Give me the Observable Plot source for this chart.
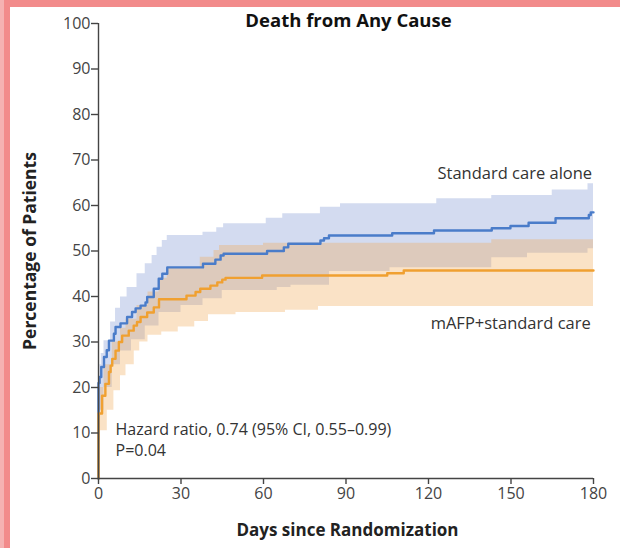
<!DOCTYPE html>
<html><head><meta charset="utf-8">
<script src="https://cdn.jsdelivr.net/npm/d3@7"></script>
<script src="https://cdn.jsdelivr.net/npm/@observablehq/plot@0.6"></script>
<style>
html,body{margin:0;padding:0;background:#fff;}
#outer{width:620px;height:548px;background:#f5b2b2;position:relative;overflow:hidden;}
#frame{position:absolute;left:4px;top:0;width:610px;height:541px;border-left:6px solid #f28b8b;border-top:7px solid #f28b8b;background:#fff;}
#frame svg{display:block;}
</style></head><body><div id="outer"><div id="frame"></div></div>
<script>
// Standard care alone: Kaplan-Meier step curve (days, percentage)
const stdDays = [0, 0, 0.4, 1, 2, 3, 3.8, 5.6, 6.2, 8, 10.4, 12.2, 13.5, 15.3, 17.1, 17.7, 20.1, 21.9, 23.2, 25, 38, 42.5, 44.4, 45.5, 61.3, 67.4, 69, 80.7, 82, 83.8, 106.8, 122, 143, 149.8, 156.4, 166.2, 178.3, 179, 180];
const stdVals = [0, 21, 22.3, 24.5, 26.7, 28.2, 30.3, 31.8, 33.3, 34.1, 35.5, 36.6, 37.4, 38.0, 38.7, 39.9, 41.7, 43.9, 45.0, 46.4, 47.2, 48.1, 49.0, 49.4, 50.0, 50.8, 51.6, 52.3, 52.8, 53.4, 53.9, 54.5, 55.0, 55.5, 56.2, 57.2, 57.9, 58.5, 58.5];
// Standard care alone: 95% CI
const stdUpDays = [0, 0.5, 1, 2, 4.4, 6.2, 8, 10.4, 14, 17, 19.5, 21.3, 23.2, 25, 38, 43, 45.5, 61, 67, 80.7, 88, 123, 143, 165, 178, 180];
const stdUpVals = [22, 25, 27.5, 30.3, 34.4, 37.4, 39.9, 42, 45, 47.2, 49, 50.8, 52.3, 53.4, 54.1, 55.1, 56, 57.2, 58.2, 59.6, 60.4, 61.5, 62.2, 63.4, 64.8, 64.8];
const stdLoDays = [0, 2, 5, 8, 12, 17, 22, 30, 38, 45, 65, 70, 84, 106, 143, 156, 178, 180];
const stdLoVals = [15, 20, 25, 28, 30.5, 33.5, 36.5, 38, 39.5, 41.3, 42, 42.5, 45.5, 46.3, 48.5, 49.5, 50.5, 50.5];
// mAFP + standard care
const mafpDays = [0, 0, 1.3, 2.5, 3.8, 4.4, 5, 6.2, 7.4, 8.6, 11, 12.8, 14, 15.3, 17.7, 20.1, 22, 32, 35.3, 37, 40.7, 43.2, 45, 46.2, 59.5, 105, 111, 180];
const mafpVals = [0, 14.3, 18.2, 20.8, 23.4, 24.8, 26.3, 28.1, 30.0, 31.4, 32.5, 33.6, 34.4, 35.5, 36.5, 37.6, 39.4, 40.2, 41.0, 41.7, 42.4, 43.1, 43.7, 44.1, 44.6, 45.1, 45.7, 45.7];
const mafpUpDays = [0, 2, 5, 8, 10, 14, 18, 22, 25, 37, 42, 44, 60, 143, 180];
const mafpUpVals = [20, 25, 30, 33, 35, 38, 41, 44, 46.2, 48.6, 50.1, 51.2, 51.7, 52.5, 52.5];
const mafpLoDays = [0, 0.7, 3.2, 5.6, 8, 10, 13, 15, 18, 23, 29, 35, 40, 50, 68, 80, 180];
const mafpLoVals = [8, 10.5, 15, 19.3, 22.6, 25, 28, 30, 31.5, 32.2, 33.3, 34.5, 36, 36.5, 37, 37.8, 38];

const xTicks = [0, 30, 60, 90, 120, 150, 180];
const yTicks = [0, 10, 20, 30, 40, 50, 60, 70, 80, 90, 100];

function stepAt(days, vals, t) {
  let v = vals[0];
  for (let i = 0; i < days.length; i++) if (days[i] <= t) v = vals[i];
  return v;
}
function band(loD, loV, upD, upV) {
  const ds = Array.from(new Set([...loD, ...upD])).sort((a, b) => a - b);
  return ds.map(d => ({day: d, lo: stepAt(loD, loV, d), hi: stepAt(upD, upV, d)}));
}
const stdLine = stdDays.map((d, i) => ({day: d, v: stdVals[i]}));
const mafpLine = mafpDays.map((d, i) => ({day: d, v: mafpVals[i]}));
const stdBand = band(stdLoDays, stdLoVals, stdUpDays, stdUpVals);
const mafpBand = band(mafpLoDays, mafpLoVals, mafpUpDays, mafpUpVals);

const font = "Open Sans";
const plot = Plot.plot({
  width: 610, height: 541,
  marginLeft: 88, marginRight: 27, marginTop: 16, marginBottom: 70,
  x: {domain: [0, 180]},
  y: {domain: [0, 100]},
  style: {fontFamily: font, background: "transparent", overflow: "visible"},
  marks: [
    Plot.areaY(stdBand, {x: "day", y1: "lo", y2: "hi", curve: "step-after", fill: "#d3dbf0"}),
    Plot.areaY(mafpBand, {x: "day", y1: "lo", y2: "hi", curve: "step-after", fill: "#f1ac5c", fillOpacity: 0.35}),
    Plot.line(stdLine, {x: "day", y: "v", curve: "step-after", stroke: "#4a7cc9", strokeWidth: 2.4}),
    Plot.line(mafpLine, {x: "day", y: "v", curve: "step-after", stroke: "#f0a030", strokeWidth: 2.4}),
    Plot.ruleX([0], {stroke: "#444", strokeWidth: 1.4}),
    Plot.ruleY([0], {stroke: "#444", strokeWidth: 1.4}),
    Plot.axisY({ticks: yTicks, tickSize: 7, tickPadding: 1, label: null, fontSize: 16, fill: "#444", stroke: "#444", strokeWidth: 1.4}),
    Plot.axisX({ticks: xTicks, tickSize: 6, tickPadding: 3, label: null, fontSize: 16, fill: "#444", stroke: "#444", strokeWidth: 1.4}),
    Plot.text(["Death from Any Cause"], {frameAnchor: "top", dx: 2.5, dy: -2, lineAnchor: "middle", fontSize: 18.5, fontWeight: "bold", fill: "#111"}),
    Plot.text(["Percentage of Patients"], {frameAnchor: "left", dx: -68, rotate: -90, textAnchor: "middle", fontSize: 17.5, fontWeight: "bold", fill: "#222"}),
    Plot.text(["Days since Randomization"], {frameAnchor: "bottom", dx: 1.5, dy: 52, lineAnchor: "middle", fontSize: 17, fontWeight: "bold", fill: "#222"}),
    Plot.text(["Standard care alone"], {x: 179.5, y: 67, textAnchor: "end", fontSize: 16.5, fill: "#333"}),
    Plot.text(["mAFP+standard care"], {x: 179, y: 34, textAnchor: "end", fontSize: 16.5, fill: "#333"}),
    Plot.text(["Hazard ratio, 0.74 (95% CI, 0.55\u20130.99)"], {x: 6.2, y: 10.7, textAnchor: "start", fontSize: 16, fill: "#333"}),
    Plot.text(["P=0.04"], {x: 6.2, y: 6.0, textAnchor: "start", fontSize: 16, fill: "#333"})
  ]
});
document.getElementById("frame").appendChild(plot);
</script></body></html>
